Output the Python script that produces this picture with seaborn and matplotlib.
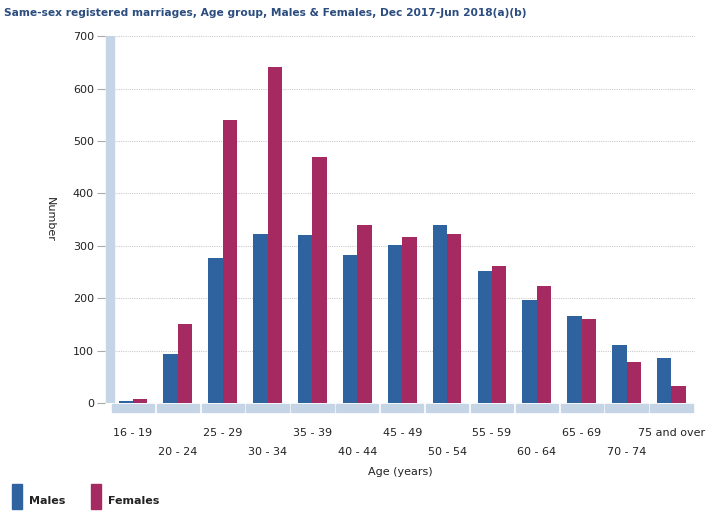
import numpy as np
import matplotlib
matplotlib.use("Agg")
import matplotlib.pyplot as plt
import pandas as pd
import seaborn as sns

ages = ["16 - 19", "20 - 24", "25 - 29", "30 - 34", "35 - 39", "40 - 44", "45 - 49",
        "50 - 54", "55 - 59", "60 - 64", "65 - 69", "70 - 74", "75 and over"]
males = [4, 94, 277, 323, 320, 282, 301, 339, 252, 197, 166, 111, 86]
females = [8, 151, 540, 642, 470, 340, 316, 322, 261, 223, 160, 79, 32]
yticks = [0, 100, 200, 300, 400, 500, 600, 700]

df = pd.DataFrame({"Age": ages * 2,
                   "Number": males + females,
                   "Sex": ["Males"] * len(ages) + ["Females"] * len(ages)})

sns.set_style("white")
plt.rcParams['font.family'] = ['DejaVu Sans']

fig = plt.figure(figsize=(7.2, 5.17), dpi=100)
ax = fig.add_axes([0.146, 0.2205, 0.819, 0.7095])

pal = {"Males": "#2e63a0", "Females": "#a52a62"}
sns.barplot(data=df, x="Age", y="Number", hue="Sex", palette=pal, width=0.64,
            saturation=1, ax=ax, legend=False, zorder=3, linewidth=0)

ax.set_xlim(-0.62, 12.52)
ax.set_ylim(0, 700)
ax.set_yticks(yticks)
ax.set_yticklabels([str(v) for v in yticks], fontsize=8, color="#222222")

# floor segments under each category and the axis wall
for i in range(len(ages)):
    ax.add_patch(plt.Rectangle((i - 0.47, -17), 0.94, 16, color="#c5d5e6",
                               clip_on=False, zorder=1))
ax.axvspan(-0.6, -0.43, color="#c5d5e6", zorder=1)

ax.grid(axis="y", color="#cccccc", linestyle=(0, (1, 1)), linewidth=0.8, zorder=0)
for s in ax.spines.values():
    s.set_visible(False)
ax.tick_params(axis="y", length=6, color="#aaaaaa", pad=2, direction="out", left=True)
ax.tick_params(axis="x", length=0)

ax.set_xticks(range(len(ages)))
ax.set_xticklabels(ages, fontsize=8, color="#222222")
# staggered category labels
for i, t in enumerate(ax.xaxis.get_major_ticks()):
    t.set_pad(18 if i % 2 == 0 else 32)

ax.set_xlabel("Age (years)", fontsize=8, color="#222222", labelpad=7)
ax.set_ylabel("Number", fontsize=8, color="#222222", rotation=-90, labelpad=20)

fig.text(0.006, 0.985, "Same-sex registered marriages, Age group, Males & Females, Dec 2017-Jun 2018(a)(b)",
         fontsize=7.7, fontweight="bold", color="#2b4c7e", va="top", ha="left")

# legend
fig.patches.append(plt.Rectangle((0.017, 0.016), 0.013, 0.048, color="#2e63a0",
                                 transform=fig.transFigure, figure=fig))
fig.text(0.04, 0.03, "Males", fontsize=8, fontweight="bold", color="#222222", va="center")
fig.patches.append(plt.Rectangle((0.127, 0.016), 0.013, 0.048, color="#a52a62",
                                 transform=fig.transFigure, figure=fig))
fig.text(0.15, 0.03, "Females", fontsize=8, fontweight="bold", color="#222222", va="center")

fig.savefig("out.png", dpi=100)
